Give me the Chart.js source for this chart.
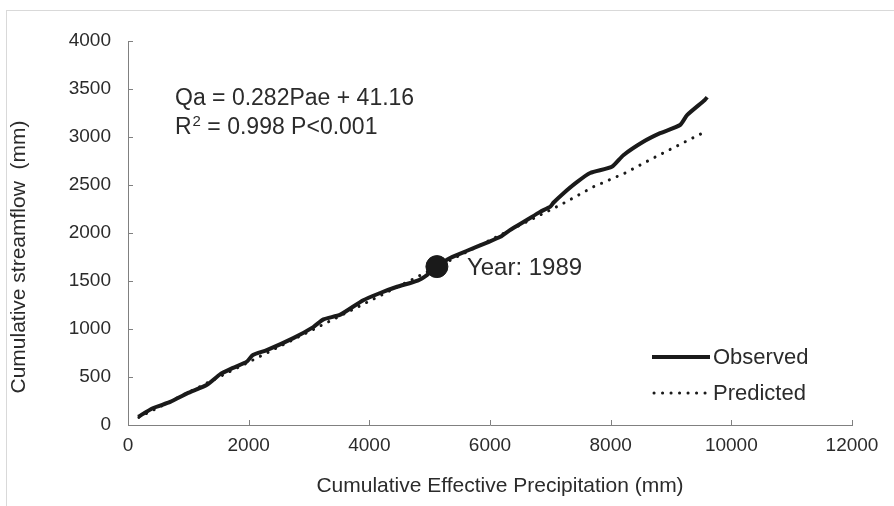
<!DOCTYPE html>
<html>
<head>
<meta charset="utf-8">
<script src="https://cdn.jsdelivr.net/npm/chart.js@4.4.1/dist/chart.umd.min.js"></script>
<style>
  html, body { margin: 0; padding: 0; background: #fff; }
  #wrap { width: 894px; height: 506px; position: relative; }
</style>
</head>
<body>
<div id="wrap"><canvas id="lineChart" width="894" height="506"></canvas></div>
<script>
// cumulative effective precipitation (mm) and cumulative streamflow (mm)
const obsX = [170, 410, 700, 980, 1310, 1530, 1740, 1970, 2070, 2300, 2740, 3070, 3240, 3520, 3900, 4180, 4460, 4800, 4960, 5120, 5340, 5620, 5950, 6170, 6330, 6610, 6830, 7000, 7050, 7210, 7440, 7660, 8020, 8210, 8540, 8820, 9150, 9270, 9560, 9600];
const obsY = [85, 175, 240, 330, 420, 530, 595, 660, 730, 780, 905, 1020, 1100, 1150, 1300, 1375, 1440, 1505, 1565, 1650, 1740, 1815, 1900, 1960, 2030, 2135, 2220, 2275, 2315, 2410, 2530, 2625, 2690, 2810, 2950, 3040, 3125, 3230, 3385, 3415];

const predX = [180, 2000, 4000, 5100, 6000, 7190, 7710, 8240, 8735, 9265, 9600];
const predY = [80, 655, 1290, 1640, 1925, 2300, 2480, 2625, 2790, 2960, 3065];

const markerX = [5120];
const markerY = [1650];
const markerLabel = 'Year: 1989';

const xTicks = [0, 2000, 4000, 6000, 8000, 10000, 12000];
const yTicks = [0, 500, 1000, 1500, 2000, 2500, 3000, 3500, 4000];

const FONT = 'Liberation Sans, Arial, sans-serif';
const TEXT = '#2b2b2b';
const AXIS = '#808080';

function toPoints(xs, ys) {
    return xs.map((x, i) => ({ x: x, y: ys[i] }));
}

// draws frame, inner tick marks, titles, equation and legend
const decorPlugin = {
    id: 'decor',
    beforeDraw(chart) {
        const c = chart.ctx;
        c.save();
        c.strokeStyle = '#d9d9d9';
        c.lineWidth = 1;
        c.strokeRect(6.5, 10.5, 900, 500);
        c.restore();
    },
    afterDraw(chart) {
        const c = chart.ctx;
        const xs = chart.scales.x;
        const ys = chart.scales.y;
        const area = chart.chartArea;
        c.save();

        // inner tick marks
        c.strokeStyle = AXIS;
        c.lineWidth = 1;
        c.beginPath();
        xTicks.forEach(v => {
            if (v === 0) return;
            const px = Math.round(xs.getPixelForValue(v)) + 0.5;
            c.moveTo(px, area.bottom);
            c.lineTo(px, area.bottom - 5);
        });
        yTicks.forEach(v => {
            if (v === 0) return;
            const py = Math.round(ys.getPixelForValue(v)) + 0.5;
            c.moveTo(area.left, py);
            c.lineTo(area.left + 5, py);
        });
        c.stroke();

        c.fillStyle = TEXT;
        c.textBaseline = 'middle';

        // axis titles
        c.font = '21px ' + FONT;
        c.textAlign = 'center';
        c.fillText('Cumulative Effective Precipitation (mm)', 500, 486);
        c.save();
        c.translate(19, 257);
        c.rotate(-Math.PI / 2);
        c.fillText('Cumulative streamflow  (mm)', 0, 0);
        c.restore();

        // equation
        c.textAlign = 'left';
        c.font = '23px ' + FONT;
        c.fillText('Qa = 0.282Pae + 41.16', 175, 99);
        let x = 175;
        c.fillText('R', x, 128);
        x += c.measureText('R').width + 1;
        c.font = '15px ' + FONT;
        c.fillText('2', x, 122);
        x += c.measureText('2').width;
        c.font = '23px ' + FONT;
        c.fillText(' = 0.998 P<0.001', x, 128);

        // marker label
        c.font = '24px ' + FONT;
        c.fillText(markerLabel, xs.getPixelForValue(markerX[0]) + 30, ys.getPixelForValue(markerY[0]) + 2);

        // legend
        c.font = '22px ' + FONT;
        c.fillText('Observed', 713, 358);
        c.fillText('Predicted', 713, 394);
        c.strokeStyle = '#1a1a1a';
        c.lineWidth = 4;
        c.beginPath();
        c.moveTo(652, 357);
        c.lineTo(710, 357);
        c.stroke();
        c.lineWidth = 3;
        c.lineCap = 'round';
        c.setLineDash([0.1, 8.4]);
        c.beginPath();
        c.moveTo(654, 393);
        c.lineTo(708, 393);
        c.stroke();
        c.restore();
    }
};

const ctx = document.getElementById('lineChart').getContext('2d');
const lineChartInstance = new Chart(ctx, {
    type: 'line',
    data: {
        datasets: [{
            label: 'Predicted',
            data: toPoints(predX, predY),
            borderColor: '#1a1a1a',
            borderWidth: 3,
            borderDash: [0.1, 8.4],
            borderCapStyle: 'round',
            pointRadius: 0,
            fill: false,
            order: 2,
        }, {
            label: 'Observed',
            data: toPoints(obsX, obsY),
            borderColor: '#1a1a1a',
            borderWidth: 4,
            borderJoinStyle: 'round',
            pointRadius: 0,
            fill: false,
            tension: 0.2,
            order: 1,
        }, {
            label: 'Marker',
            data: toPoints(markerX, markerY),
            showLine: false,
            pointRadius: 11,
            pointBackgroundColor: '#1a1a1a',
            pointBorderColor: '#1a1a1a',
            order: 0,
        }],
    },
    options: {
        responsive: false,
        animation: false,
        layout: {
            padding: { left: 0, top: 41, right: 42, bottom: 0 },
        },
        plugins: {
            legend: { display: false },
            tooltip: { enabled: false },
        },
        scales: {
            x: {
                type: 'linear',
                min: 0,
                max: 12000,
                afterFit: (scale) => { scale.height = 81; },
                afterBuildTicks: (scale) => { scale.ticks = xTicks.map(v => ({ value: v })); },
                grid: { display: false, drawTicks: false },
                border: { display: true, color: AXIS, width: 1 },
                ticks: {
                    padding: 9,
                    color: TEXT,
                    font: { family: FONT, size: 19 },
                    maxRotation: 0,
                    callback: (v) => String(v),
                },
            },
            y: {
                type: 'linear',
                min: 0,
                max: 4000,
                afterFit: (scale) => { scale.width = 128; },
                afterBuildTicks: (scale) => { scale.ticks = yTicks.map(v => ({ value: v })); },
                grid: { display: false, drawTicks: false },
                border: { display: true, color: AXIS, width: 1 },
                ticks: {
                    padding: 17,
                    color: TEXT,
                    font: { family: FONT, size: 19 },
                    callback: (v) => String(v),
                },
            },
        },
    },
    plugins: [decorPlugin],
});
</script>
</body>
</html>
